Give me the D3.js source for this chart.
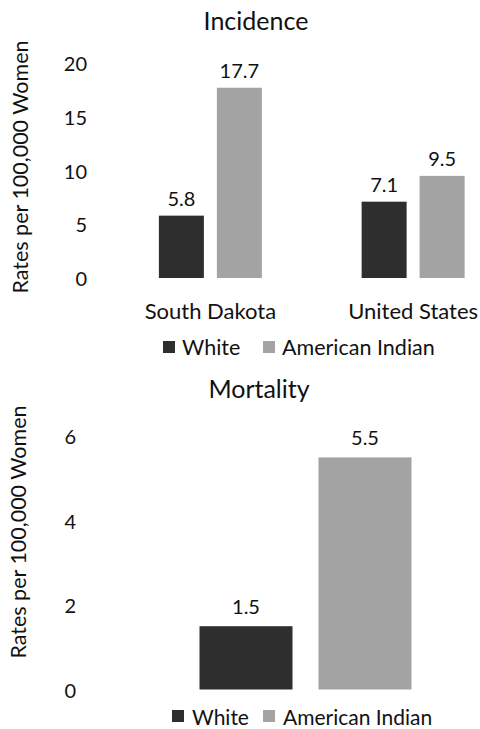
<!DOCTYPE html>
<html><head><meta charset="utf-8">
<script src="https://cdn.jsdelivr.net/npm/d3@7"></script>
<style>
html,body{margin:0;padding:0;background:#fff;}
svg{display:block;}
text{font-family:Lato,"Open Sans",sans-serif;fill:#111;}
</style></head>
<body>
<script>
// ---- data ----
const series = ["White", "American Indian"];
const seriesColors = ["#2e2e2e", "#a3a3a3"];
const incidenceCategories = ["South Dakota", "United States"];
const incidenceWhite = [5.8, 7.1];
const incidenceAmericanIndian = [17.7, 9.5];
const incidenceTicks = [0, 5, 10, 15, 20];
const mortalityCategories = [""];
const mortalityWhite = [1.5];
const mortalityAmericanIndian = [5.5];
const mortalityTicks = [0, 2, 4, 6];
const yAxisTitle = "Rates per 100,000 Women";

const W = 480, H = 729;
const svg = d3.select("body").append("svg").attr("width", W).attr("height", H);
svg.append("rect").attr("width", W).attr("height", H).attr("fill", "#fff");

function drawChart(cfg) {
  const g = svg.append("g");
  const y = d3.scaleLinear().domain(cfg.yDomain).range(cfg.yRange);
  const x0 = d3.scaleBand().domain(cfg.categories).range(cfg.xRange).paddingInner(0).paddingOuter(0);
  const x1 = d3.scaleBand().domain(series)
    .range([x0.bandwidth()/2 - cfg.groupWidth/2, x0.bandwidth()/2 + cfg.groupWidth/2])
    .paddingInner(cfg.innerPad).paddingOuter(0);

  // title
  g.append("text").attr("x", cfg.titleX).attr("y", cfg.titleY)
    .attr("text-anchor", "middle").attr("dominant-baseline", "central")
    .style("font-size", "25px").text(cfg.title);

  // y axis (labels only)
  const yAxis = d3.axisLeft(y).tickValues(cfg.ticks).tickSize(0).tickPadding(0).tickFormat(d3.format("d"));
  const ya = g.append("g").attr("transform", `translate(${cfg.tickRight},0)`).call(yAxis);
  ya.select(".domain").remove();
  ya.selectAll("text").style("font-size", "20px").attr("fill", "#111")
    .style("font-family", "Lato, sans-serif").attr("dy", "0.38em");

  // y title
  g.append("text").attr("transform", `translate(${cfg.yTitleX},${cfg.yTitleY}) rotate(-90)`)
    .attr("text-anchor", "middle").attr("dominant-baseline", "central")
    .style("font-size", "21.5px").text(yAxisTitle);

  // bars
  const rows = cfg.categories.map((c, i) => ({cat: c, vals: [cfg.white[i], cfg.ai[i]]}));
  const grp = g.selectAll(".grp").data(rows).enter().append("g")
    .attr("transform", d => `translate(${x0(d.cat)},0)`);
  grp.selectAll("rect").data(d => d.vals.map((v, j) => ({s: series[j], v, j}))).enter()
    .append("rect")
    .attr("x", d => x1(d.s)).attr("width", x1.bandwidth())
    .attr("y", d => y(d.v)).attr("height", d => y(0) - y(d.v))
    .attr("fill", d => seriesColors[d.j]);
  grp.selectAll(".val").data(d => d.vals.map((v, j) => ({s: series[j], v, j}))).enter()
    .append("text")
    .attr("x", d => x1(d.s) + x1.bandwidth()/2).attr("y", d => y(d.v) - cfg.labelGap)
    .attr("text-anchor", "middle").attr("dominant-baseline", "central")
    .style("font-size", "20px").text(d => d3.format(".1f")(d.v));

  // category labels
  g.selectAll(".cat").data(cfg.categories.filter(c => c !== "")).enter().append("text")
    .attr("x", d => x0(d) + x0.bandwidth()/2).attr("y", cfg.catY)
    .attr("text-anchor", "middle").attr("dominant-baseline", "central")
    .style("font-size", "22px").text(d => d);

  // legend
  const lg = g.selectAll(".lg").data(series).enter().append("g")
    .attr("transform", (d, i) => `translate(${cfg.legendX[i]},${cfg.legendY})`);
  lg.append("rect").attr("x", 0).attr("y", -6).attr("width", 12).attr("height", 12)
    .attr("fill", (d, i) => seriesColors[i]);
  lg.append("text").attr("x", cfg.legendTextGap).attr("y", 0)
    .attr("dominant-baseline", "central").style("font-size", cfg.legendFont).text(d => d);
}

drawChart({
  title: "Incidence", titleX: 256, titleY: 20,
  categories: incidenceCategories, white: incidenceWhite, ai: incidenceAmericanIndian,
  ticks: incidenceTicks, yDomain: [0, 20], yRange: [278, 63],
  xRange: [109, 514.5], groupWidth: 103, innerPad: 13/58,
  tickRight: 87, yTitleX: 20, yTitleY: 167, labelGap: 18,
  catY: 310, legendX: [163, 263], legendY: 347, legendTextGap: 19, legendFont: "21.5px"
});

drawChart({
  title: "Mortality", titleX: 259, titleY: 388,
  categories: mortalityCategories, white: mortalityWhite, ai: mortalityAmericanIndian,
  ticks: mortalityTicks, yDomain: [0, 6], yRange: [689.5, 436.3],
  xRange: [199.5, 411.5], groupWidth: 212, innerPad: 26/119,
  tickRight: 76, yTitleX: 18, yTitleY: 532, labelGap: 20,
  catY: 0, legendX: [172, 263], legendY: 716, legendTextGap: 20, legendFont: "21px"
});
</script>
</body></html>
